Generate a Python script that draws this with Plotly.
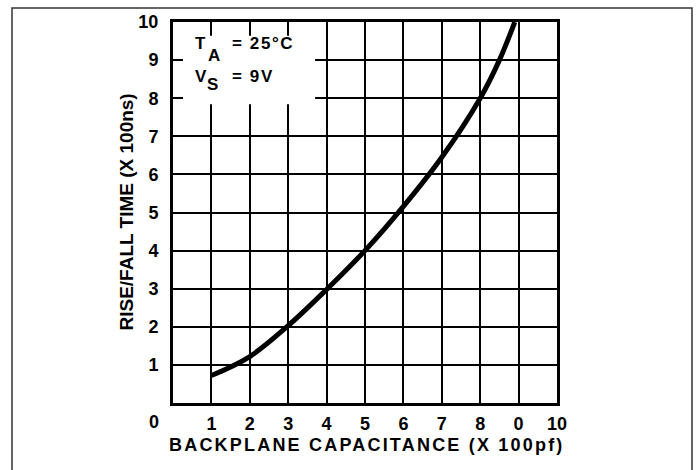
import plotly.graph_objects as go

# Data
cap_x = [1.0, 2.0, 3.0, 4.0, 5.0, 6.0, 7.0, 8.0, 8.5, 8.9]
rise_y = [0.72, 1.22, 2.03, 2.98, 4.0, 5.16, 6.45, 8.0, 9.0, 10.0]

x_tickvals = [1, 2, 3, 4, 5, 6, 7, 8, 9, 10]
x_ticktext = ["1", "2", "3", "4", "5", "6", "7", "8", "0", "10"]
y_tickvals = [1, 2, 3, 4, 5, 6, 7, 8, 9, 10]
y_ticktext = ["1", "2", "3", "4", "5", "6", "7", "8", "9", "10"]

FONT = "Liberation Sans, Arial, sans-serif"

fig = go.Figure()
fig.add_trace(go.Scatter(x=cap_x, y=rise_y, mode="lines",
                         line=dict(color="black", width=5, shape="spline", smoothing=1.0),
                         hoverinfo="skip", showlegend=False))

W, H = 699, 470
L, R, T, B = 173, 142, 19, 67
pw = W - L - R
ph = H - T - B

def px_to_paper_x(px):
    return (px - L) / pw
def px_to_paper_y(py):
    return (H - B - py) / ph

fig.update_layout(
    width=W, height=H,
    margin=dict(l=L, r=R, t=T, b=B, pad=0),
    paper_bgcolor="white", plot_bgcolor="white",
    font=dict(family=FONT, size=18, color="black"),
    showlegend=False,
)
tickfont = dict(family=FONT, size=18, color="black", weight="bold")
fig.update_xaxes(range=[0, 10], tickvals=x_tickvals, ticktext=x_ticktext,
                 showgrid=True, gridcolor="black", gridwidth=1.5,
                 showline=True, linecolor="black", linewidth=3, mirror=True,
                 ticks="outside", ticklen=2, tickcolor="rgba(0,0,0,0)",
                 tickfont=tickfont, zeroline=False, fixedrange=True)
fig.update_yaxes(range=[0, 10], tickvals=y_tickvals, ticktext=y_ticktext,
                 showgrid=True, gridcolor="black", gridwidth=1.5,
                 showline=True, linecolor="black", linewidth=3, mirror=True,
                 ticks="outside", ticklen=8, tickcolor="rgba(0,0,0,0)",
                 tickfont=tickfont, zeroline=False, fixedrange=True)

# white box behind the conditions text
fig.add_shape(type="rect", xref="x", yref="y", x0=0.26, x1=3.70, y0=7.84, y1=9.64,
              fillcolor="white", line=dict(width=0), layer="above")

# outer frame
fig.add_shape(type="rect", xref="paper", yref="paper",
              x0=px_to_paper_x(12), x1=px_to_paper_x(692),
              y0=px_to_paper_y(490), y1=px_to_paper_y(5),
              line=dict(color="#333", width=1.5), fillcolor="rgba(0,0,0,0)", layer="above")

bold18 = dict(family=FONT, size=18, color="black", weight="bold")
bold19 = dict(family=FONT, size=19, color="black", weight="bold")

# Titles
fig.add_annotation(text='<span style="letter-spacing:2.2px">BACKPLANE CAPACITANCE (X 100pf)</span>',
                   xref="paper", yref="paper",
                   x=px_to_paper_x(367), y=0, xanchor="center", yanchor="middle", yshift=-42,
                   showarrow=False, font=bold18)
fig.add_annotation(text="RISE/FALL TIME (X 100ns)", xref="paper", yref="paper",
                   x=0, y=0.5, xanchor="center", yanchor="middle", xshift=-47,
                   textangle=-90, showarrow=False, font=bold19)
# Origin label
fig.add_annotation(text="0", xref="paper", yref="paper", x=px_to_paper_x(154), y=0,
                   xanchor="center", yanchor="middle", yshift=-19,
                   showarrow=False, font=bold18)

# Conditions text
small = dict(family=FONT, size=17, color="black", weight="bold")
def txt(s, px, py_mid, ls=0.0):
    if ls:
        s = '<span style="letter-spacing:%.1fpx">%s</span>' % (ls, s)
    fig.add_annotation(text=s, xref="paper", yref="paper",
                       x=px_to_paper_x(px), y=px_to_paper_y(py_mid),
                       xanchor="left", yanchor="middle",
                       showarrow=False, font=small, borderpad=0)

txt("T", 194, 40.5)
txt("A", 207, 53)
txt("= 25°C", 231, 40.5, 1.6)
txt("V", 194, 74)
txt("S", 206, 82)
txt("= 9V", 231, 74, 1.6)

fig.write_html("out.html", config={"displayModeBar": False},
               post_script="document.body.style.margin='0';document.body.style.overflow='hidden';")
